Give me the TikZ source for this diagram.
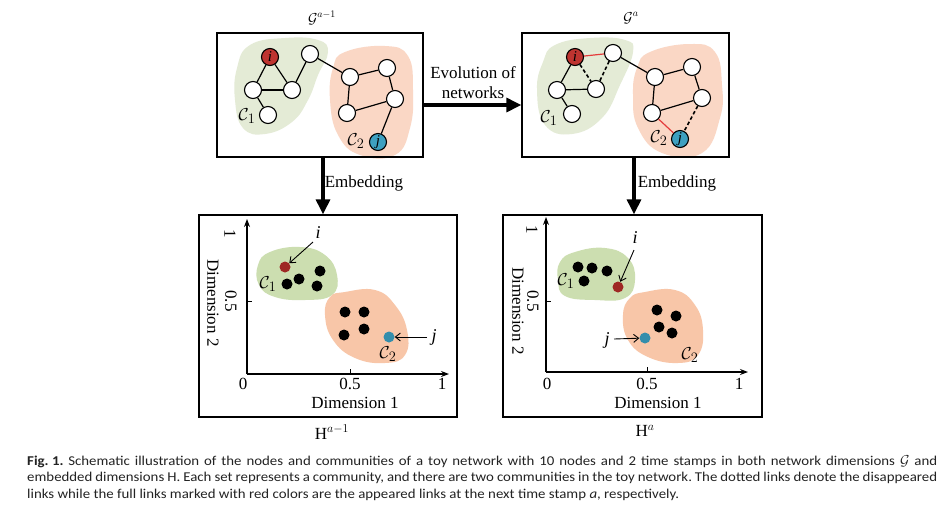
\documentclass[tikz,border=0pt]{standalone}
\usepackage{fontspec}
\setmainfont{Liberation Serif}
\newfontfamily\capfont[FakeStretch=1.1]{Carlito}
\usetikzlibrary{arrows.meta}
\definecolor{gtop}{RGB}{228,235,214}
\definecolor{otop}{RGB}{250,215,197}
\definecolor{gbot}{RGB}{204,222,176}
\definecolor{obot}{RGB}{248,198,168}
\definecolor{nred}{RGB}{190,52,48}
\definecolor{nblue}{RGB}{62,160,192}
\definecolor{dred}{RGB}{158,40,36}
\definecolor{dblue}{RGB}{52,142,172}
\definecolor{ered}{RGB}{228,60,60}
\definecolor{captxt}{RGB}{35,35,35}
\tikzset{
  frame/.style={draw, line width=1.3pt, inner sep=0pt},
  gnode/.style={circle, draw, line width=1.1pt, fill=white, minimum size=17pt, inner sep=0pt},
  inode/.style={gnode, fill=nred, font=\fontsize{15}{15}\selectfont\itshape},
  jnode/.style={gnode, fill=nblue, font=\fontsize{15}{15}\selectfont\itshape},
  edge/.style={line width=1.2pt},
  dedge/.style={line width=1.6pt, dash pattern=on 3.5pt off 2.5pt},
  redge/.style={line width=1.2pt, draw=ered},
  dot/.style={circle, fill=black, minimum size=11pt, inner sep=0pt},
  bigarrow/.style={line width=3.2pt, -{Triangle[length=15pt,width=14pt]}},
  axis/.style={line width=1.1pt, -{Stealth[length=8pt,width=6pt]}},
  tick/.style={line width=1pt},
  lblarrow/.style={line width=0.9pt, -{Straight Barb[length=5pt,width=8pt]}},
  lbl/.style={font=\fontsize{17}{17}\selectfont},
  ilbl/.style={font=\fontsize{18}{18}\selectfont\itshape},
  clbl/.style={font=\fontsize{19}{19}\selectfont},
  glbl/.style={font=\fontsize{14}{14}\selectfont},
  caplbl/.style={font=\capfont\fontsize{13.5}{15}\selectfont\frenchspacing, text=captxt, anchor=west, inner sep=0pt},
}
\begin{document}
\begin{tikzpicture}[x=1pt,y=-1pt]
\useasboundingbox (0,0) rectangle (942,507);
\fill[white] (0,0) rectangle (942,507);

% ---------------- top blobs ----------------
\fill[gtop] plot[smooth cycle, tension=0.75] coordinates {(250,45) (285,38) (318,40) (328,52) (318,75) (308,100) (292,122) (265,134) (243,128) (235,100) (237,68)};
\fill[otop] plot[smooth cycle, tension=0.75] coordinates {(345,52) (385,46) (408,56) (413,90) (410,128) (395,155) (360,155) (338,135) (330,100) (333,68)};
\fill[gtop] plot[smooth cycle, tension=0.75] coordinates {(555,45) (590,38) (625,40) (633,52) (620,85) (602,118) (572,134) (545,125) (537,90) (543,62)};
\fill[otop] plot[smooth cycle, tension=0.75] coordinates {(650,52) (690,44) (715,52) (722,85) (720,118) (702,153) (662,153) (638,128) (633,95) (637,68)};

% ---------------- frames ----------------
\node[frame, minimum width=206pt, minimum height=124pt] (topL) at (320,95) {};
\node[frame, minimum width=207pt, minimum height=124pt] (topR) at (625.5,95) {};
\node[frame, minimum width=258pt, minimum height=202pt] (botL) at (328,316) {};
\node[frame, minimum width=259pt, minimum height=202pt] (botR) at (632.5,316) {};

\node[glbl] (gL) at (322,18) {$\mathcal{G}^{a-1}$};
\node[glbl] (gR) at (631,18) {$\mathcal{G}^{a}$};

% ---------------- left network ----------------
\node[inode] (Li) at (270,57) {i};
\node[gnode] (La) at (310,54) {};
\node[gnode] (Lb) at (253,90) {};
\node[gnode] (Lc) at (292,90) {};
\node[gnode] (Ld) at (268,115) {};
\node[gnode] (Lr1) at (350,77) {};
\node[gnode] (Lr2) at (387,68) {};
\node[gnode] (Lr3) at (395,99) {};
\node[gnode] (Lr4) at (347,113) {};
\node[jnode] (Lj) at (378,142) {j};
\node[clbl] (LC1) at (247,116) {$\mathcal{C}_1$};
\node[clbl] (LC2) at (356,141) {$\mathcal{C}_2$};
\draw[edge] (Li) -- (Lb);
\draw[edge] (Li) -- (Lc);
\draw[edge] (Lb) -- (Lc);
\draw[edge] (Lb) -- (Ld);
\draw[edge] (Lc) -- (La);
\draw[edge] (La) -- (Lr1);
\draw[edge] (Lr1) -- (Lr2);
\draw[edge] (Lr2) -- (Lr3);
\draw[edge] (Lr3) -- (Lr4);
\draw[edge] (Lr1) -- (Lr4);
\draw[edge] (Lr3) -- (Lj);

% ---------------- right network ----------------
\node[inode] (Ri) at (575,57) {i};
\node[gnode] (Ra) at (613,53) {};
\node[gnode] (Rb) at (557,90) {};
\node[gnode] (Rc) at (596,89) {};
\node[gnode] (Rd) at (572,114) {};
\node[gnode] (Rr1) at (655,77) {};
\node[gnode] (Rr2) at (692,67) {};
\node[gnode] (Rr3) at (702,98) {};
\node[gnode] (Rr4) at (652,113) {};
\node[jnode] (Rj) at (680,139) {j};
\node[clbl] (RC1) at (549,118) {$\mathcal{C}_1$};
\node[clbl] (RC2) at (659,138) {$\mathcal{C}_2$};
\draw[redge] (Ri) -- (Ra);
\draw[edge] (Ri) -- (Rb);
\draw[dedge] (Ri) -- (Rc);
\draw[dedge] (Ra) -- (Rc);
\draw[edge] (Rb) -- (Rc);
\draw[edge] (Rb) -- (Rd);
\draw[edge] (Ra) -- (Rr1);
\draw[edge] (Rr1) -- (Rr2);
\draw[edge] (Rr2) -- (Rr3);
\draw[edge] (Rr3) -- (Rr4);
\draw[edge] (Rr1) -- (Rr4);
\draw[redge] (Rr4) -- (Rj);
\draw[dedge] (Rr3) -- (Rj);

% ---------------- big arrows ----------------
\draw[bigarrow] ([yshift=-10pt]topL.east) -- ([yshift=-10pt]topR.west);
\node[lbl] (evo1) at (473,73) {Evolution of};
\node[lbl] (evo2) at (473,93) {networks};
\draw[bigarrow] ([xshift=3pt]topL.south) -- ([xshift=3pt]topL.south |- botL.north);
\draw[bigarrow] ([xshift=8.5pt]topR.south) -- ([xshift=8.5pt]topR.south |- botR.north);
\node[lbl] (embL) at (364,183) {Embedding};
\node[lbl] (embR) at (677,183) {Embedding};

% ---------------- lower left plot ----------------
\fill[gbot] plot[smooth cycle, tension=0.75] coordinates {(270,252) (300,247) (325,255) (337,275) (332,295) (305,300) (275,297) (259,285) (258,265)};
\fill[obot] plot[smooth cycle, tension=0.75] coordinates {(345,292) (375,290) (395,305) (407,330) (405,355) (385,363) (355,358) (333,340) (325,315) (330,297)};
\coordinate (oL) at (247,374);
\coordinate (xL) at (449,374);
\coordinate (yL) at (247,219);
\draw[axis] (oL) -- (xL);
\draw[axis] (oL) -- (yL);
\draw[tick] (350,374) -- (350,369);
\draw[tick] (247,301) -- (252,301);
\node[lbl] (xl0) at (243,384) {0};
\node[lbl] (xl5) at (350,384) {0.5};
\node[lbl] (xl1) at (442,384) {1};
\node[lbl, rotate=-90] (yl1) at (230,234) {1};
\node[lbl, rotate=-90] (yl5) at (231,301) {0.5};
\node[lbl, rotate=-90] (dim2L) at (213,303) {Dimension 2};
\node[lbl] (dim1L) at (355,403) {Dimension 1};
\node[lbl] (HL) at (332,432) {H$^{a-1}$};
\node[dot, fill=dred] (Pi) at (285,267) {};
\node[dot] (P1) at (320,271) {};
\node[dot] (P2) at (299,279) {};
\node[dot] (P3) at (287,284) {};
\node[dot] (P4) at (317,286) {};
\node[dot] (P5) at (345,312) {};
\node[dot] (P6) at (364,312) {};
\node[dot] (P7) at (344,335) {};
\node[dot] (P8) at (364,329) {};
\node[dot, fill=dblue] (Pj) at (389,337) {};
\node[ilbl] (PiL) at (318,233) {i};
\node[ilbl] (PjL) at (434,337) {j};
\draw[lblarrow] (313,242) -- (Pi);
\draw[lblarrow] (427,337) -- (Pj);
\node[clbl] (PC1) at (268,284) {$\mathcal{C}_1$};
\node[clbl] (PC2) at (388,354) {$\mathcal{C}_2$};

% ---------------- lower right plot ----------------
\fill[gbot] plot[smooth cycle, tension=0.75] coordinates {(575,252) (605,248) (628,258) (635,280) (625,298) (595,300) (565,296) (558,280) (560,262)};
\fill[obot] plot[smooth cycle, tension=0.75] coordinates {(645,292) (675,290) (695,305) (703,330) (698,355) (678,363) (648,357) (628,340) (623,315) (630,298)};
\coordinate (oR) at (546,372);
\coordinate (xR) at (748,372);
\coordinate (yR) at (546,217);
\draw[axis] (oR) -- (xR);
\draw[axis] (oR) -- (yR);
\draw[tick] (647,372) -- (647,367);
\draw[tick] (546,301) -- (551,301);
\node[lbl] (rxl0) at (547,384) {0};
\node[lbl] (rxl5) at (647,384) {0.5};
\node[lbl] (rxl1) at (739,384) {1};
\node[lbl, rotate=-90] (ryl1) at (532,230) {1};
\node[lbl, rotate=-90] (ryl5) at (533,301) {0.5};
\node[lbl, rotate=-90] (dim2R) at (518,311) {Dimension 2};
\node[lbl] (dim1R) at (658,403) {Dimension 1};
\node[lbl] (HR) at (645,431) {H$^{a}$};
\node[dot] (Q1) at (578,267) {};
\node[dot] (Q2) at (592,268) {};
\node[dot] (Q3) at (607,271) {};
\node[dot] (Q4) at (584,281) {};
\node[dot, fill=dred] (Qi) at (618,287) {};
\node[dot] (Q5) at (657,310) {};
\node[dot] (Q6) at (676,316) {};
\node[dot] (Q7) at (659,327) {};
\node[dot] (Q8) at (672,333) {};
\node[dot, fill=dblue] (Qj) at (645,338) {};
\node[ilbl] (QiL) at (635,238) {i};
\node[ilbl] (QjL) at (607,340) {j};
\draw[lblarrow] (634,250) -- (Qi);
\draw[lblarrow] (614,339) -- (Qj);
\node[clbl] (QC1) at (566,281) {$\mathcal{C}_1$};
\node[clbl] (QC2) at (690,355) {$\mathcal{C}_2$};

% ---------------- caption ----------------
\node[caplbl] (cap1) at (27,462) {\makebox[910pt][s]{\textbf{Fig.\kern0.25em1.}\kern0.35em Schematic illustration of the nodes and communities of a toy network with 10 nodes and 2 time stamps in both network dimensions $\mathcal{G}$ and}};
\node[caplbl] (cap2) at (27,478) {\makebox[910pt][s]{embedded dimensions H. Each set represents a community, and there are two communities in the toy network. The dotted links denote the disappeared}};
\node[caplbl] (cap3) at (27,495) {links while the full links marked with red colors are the appeared links at the next time stamp \textit{a}, respectively.};
\end{tikzpicture}
\end{document}
